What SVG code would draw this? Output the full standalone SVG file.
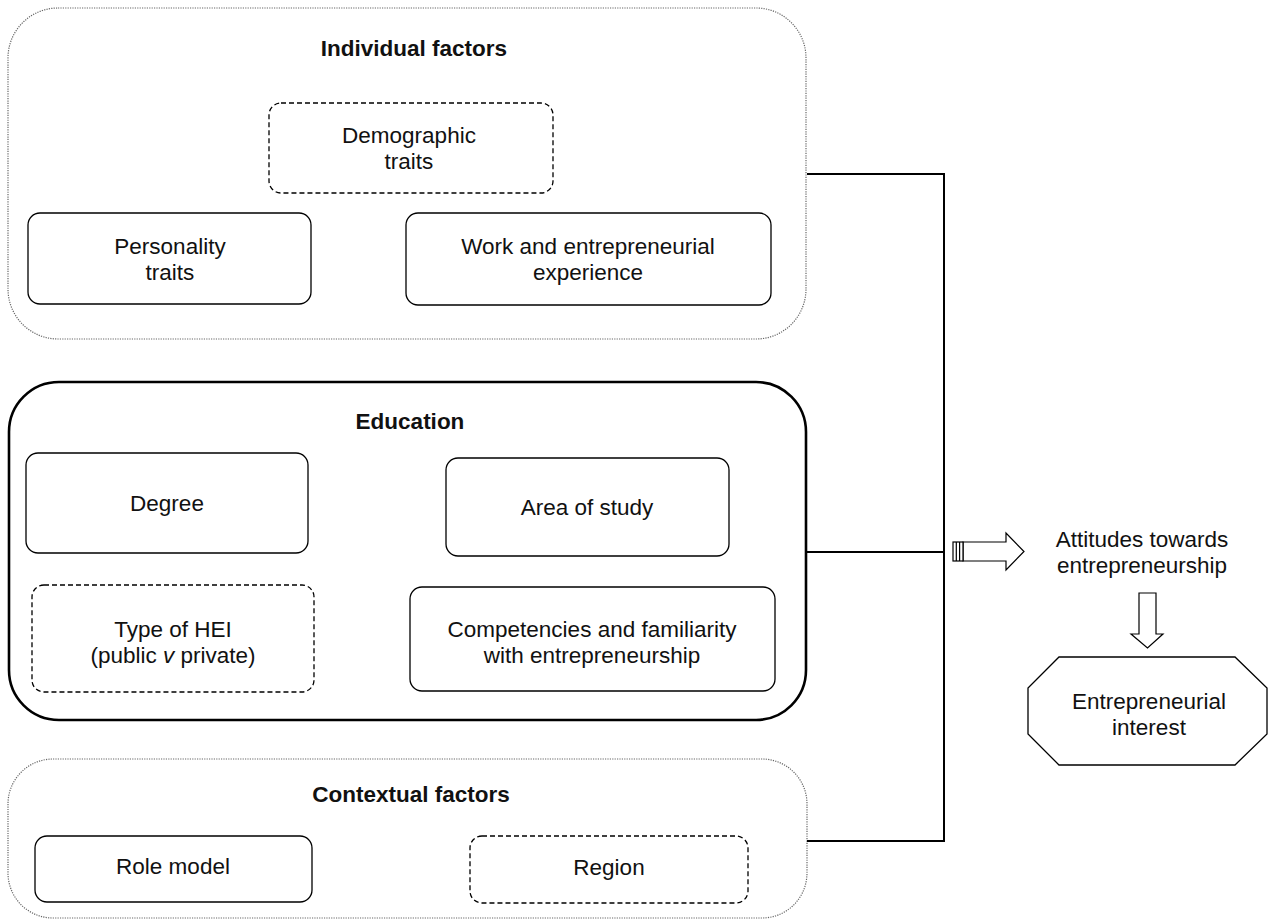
<svg xmlns="http://www.w3.org/2000/svg" width="1270" height="920" viewBox="0 0 1270 920">
<style>
.t{font-family:"Liberation Sans",Arial,sans-serif;font-size:22.5px;fill:#111;text-anchor:middle}
.b{font-weight:bold}
.grp{fill:none;stroke:#666;stroke-width:1.2;stroke-dasharray:1.2 1.2}
.edu{fill:none;stroke:#000;stroke-width:2.6}
.box{fill:#fff;stroke:#000;stroke-width:1.3}
.dash{fill:#fff;stroke:#000;stroke-width:1.3;stroke-dasharray:5 3}
.con{fill:none;stroke:#000;stroke-width:2}
.arr{fill:#fff;stroke:#000;stroke-width:1.2}
</style>
<rect width="1270" height="920" fill="#fff"/>
<g id="individual">
<rect class="grp" x="8" y="8" width="798" height="331" rx="50"/>
<text class="t b" x="414" y="56">Individual factors</text>
</g>
<g id="demographic">
<rect class="dash" x="269" y="103" width="284" height="90" rx="12"/>
<text class="t" x="409" y="143">Demographic</text>
<text class="t" x="409" y="169">traits</text>
</g>
<g id="personality">
<rect class="box" x="28" y="213" width="283" height="91" rx="12"/>
<text class="t" x="170" y="254">Personality</text>
<text class="t" x="170" y="280">traits</text>
</g>
<g id="work">
<rect class="box" x="406" y="213" width="365" height="92" rx="12"/>
<text class="t" x="588" y="254">Work and entrepreneurial</text>
<text class="t" x="588" y="280">experience</text>
</g>
<g id="education">
<rect class="edu" x="9" y="382" width="797" height="338" rx="50"/>
<text class="t b" x="410" y="429">Education</text>
</g>
<g id="degree">
<rect class="box" x="26" y="453" width="282" height="100" rx="12"/>
<text class="t" x="167" y="511">Degree</text>
</g>
<g id="area">
<rect class="box" x="446" y="458" width="283" height="98" rx="12"/>
<text class="t" x="587" y="515">Area of study</text>
</g>
<g id="hei">
<rect class="dash" x="32" y="585" width="282" height="107" rx="12"/>
<text class="t" x="173" y="637">Type of HEI</text>
<text class="t" x="173" y="663">(public <tspan font-style="italic">v</tspan> private)</text>
</g>
<g id="competencies">
<rect class="box" x="410" y="587" width="365" height="104" rx="12"/>
<text class="t" x="592" y="637">Competencies and familiarity</text>
<text class="t" x="592" y="663">with entrepreneurship</text>
</g>
<g id="contextual">
<rect class="grp" x="8" y="759" width="799" height="159" rx="45"/>
<text class="t b" x="411" y="802">Contextual factors</text>
</g>
<g id="rolemodel">
<rect class="box" x="35" y="836" width="277" height="66" rx="12"/>
<text class="t" x="173" y="874">Role model</text>
</g>
<g id="region">
<rect class="dash" x="470" y="836" width="278" height="67" rx="12"/>
<text class="t" x="609" y="875">Region</text>
</g>
<g id="connectors">
<path class="con" d="M807 174 H944 V841 H807 M806 552 H944"/>
<g id="arrow-right">
<polygon class="arr" points="963,542 1006,542 1006,533 1024,551.5 1006,570 1006,561 963,561"/>
<rect class="arr" x="953" y="542" width="10" height="19"/>
<line class="arr" x1="956.3" y1="542" x2="956.3" y2="561"/>
<line class="arr" x1="959.6" y1="542" x2="959.6" y2="561"/>
</g>
<polygon id="arrow-down" class="arr" points="1139,593 1156,593 1156,634 1163,634 1147.5,648 1131,634 1139,634"/>
</g>
<g id="attitudes">
<text class="t" x="1142" y="547">Attitudes towards</text>
<text class="t" x="1142" y="573">entrepreneurship</text>
</g>
<g id="interest">
<polygon class="box" points="1059,657 1235,657 1267,688 1267,734 1235,765 1059,765 1028,734 1028,688"/>
<text class="t" x="1149" y="709">Entrepreneurial</text>
<text class="t" x="1149" y="735">interest</text>
</g>
</svg>
